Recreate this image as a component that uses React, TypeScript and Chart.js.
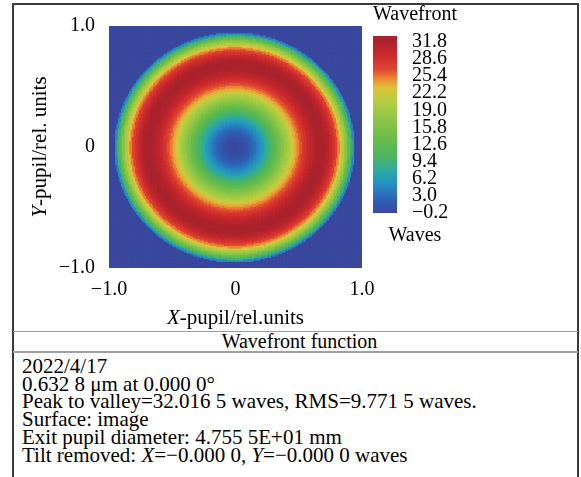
import React, { useEffect, useRef } from "react";
import { Chart, registerables } from "chart.js";

Chart.register(...registerables);

const FONT_FAMILY = '"Times New Roman", "Liberation Serif", Times, serif';

// pupil axes
const AXIS_TICKS = [-1, 0, 1];
const AXIS_TICK_LABELS = ["\u22121.0", "0", "1.0"];
const X_TITLE = ["X", "-pupil/rel.units"];
const Y_TITLE = ["Y", "-pupil/rel. units"];

// radial wavefront profile (radius in pupil axis units, value in waves)
const PROFILE_RADIUS = [
  0.0, 0.02, 0.04, 0.06, 0.08, 0.1, 0.12, 0.14, 0.16, 0.18, 0.2, 0.22, 0.24, 0.26, 0.28, 0.3, 0.32,
  0.34, 0.36, 0.38, 0.4, 0.42, 0.44, 0.46, 0.48, 0.5, 0.52, 0.54, 0.56, 0.58, 0.6, 0.62, 0.64, 0.66,
  0.68, 0.7, 0.72, 0.74, 0.76, 0.78, 0.8, 0.82, 0.84, 0.86, 0.88, 0.9, 0.92, 0.94, 0.96,
];
const PROFILE_WAVES = [
  -0.2, -0.1, 0.0, 0.3, 0.7, 1.2, 1.8, 2.5, 3.3, 4.1, 5.1, 6.2, 7.3, 8.5, 9.8, 11.1, 12.4, 13.8, 15.3,
  16.7, 18.2, 19.6, 21.0, 22.4, 23.8, 25.1, 26.3, 27.5, 28.5, 29.5, 30.3, 30.9, 31.4, 31.7, 31.8, 31.7,
  31.3, 30.7, 29.7, 28.5, 27.0, 25.1, 22.8, 20.1, 17.0, 13.4, 9.4, 4.9, -0.2,
];
const PUPIL_EDGE = 0.96;
const OUTSIDE_VALUE = -0.2;
const GRID_CELLS = 180;

// colour bar
const WAVE_MIN = -0.2;
const WAVE_MAX = 31.8;
const COLORBAR_TICKS = [31.8, 28.6, 25.4, 22.2, 19.0, 15.8, 12.6, 9.4, 6.2, 3.0, -0.2];
const COLORBAR_LABELS = ["31.8", "28.6", "25.4", "22.2", "19.0", "15.8", "12.6", "9.4", "6.2", "3.0", "\u22120.2"];
const COLORBAR_TITLE = "Wavefront";
const COLORBAR_UNIT = "Waves";

const TABLE_TITLE = "Wavefront function";
const INFO_LINES: { italic: boolean; text: string }[][] = [
  [{ italic: false, text: "2022/4/17" }],
  [{ italic: false, text: "0.632 8 \u03bcm at 0.000 0\u00b0" }],
  [{ italic: false, text: "Peak to valley=32.016 5 waves, RMS=9.771 5 waves." }],
  [{ italic: false, text: "Surface: image" }],
  [{ italic: false, text: "Exit pupil diameter: 4.755 5E+01 mm" }],
  [
    { italic: false, text: "Tilt removed: " },
    { italic: true, text: "X" },
    { italic: false, text: "=\u22120.000 0, " },
    { italic: true, text: "Y" },
    { italic: false, text: "=\u22120.000 0 waves" },
  ],
];

const COLOR_STOPS: [number, number[]][] = [
  [0.0, [58, 72, 158]],
  [0.08, [45, 98, 182]],
  [0.16, [38, 140, 196]],
  [0.24, [42, 170, 168]],
  [0.32, [72, 180, 100]],
  [0.42, [100, 187, 74]],
  [0.55, [142, 198, 70]],
  [0.66, [184, 205, 65]],
  [0.73, [222, 195, 60]],
  [0.78, [238, 140, 50]],
  [0.84, [222, 70, 50]],
  [0.92, [206, 42, 45]],
  [1.0, [170, 35, 45]],
];

function colorAtT(t: number): string {
  const tt = Math.min(1, Math.max(0, t));
  for (let k = 1; k < COLOR_STOPS.length; k++) {
    const [t1, c1] = COLOR_STOPS[k];
    const [t0, c0] = COLOR_STOPS[k - 1];
    if (tt <= t1) {
      const f = (tt - t0) / (t1 - t0);
      const c = c0.map((v, i) => Math.round(v + (c1[i] - v) * f));
      return `rgb(${c[0]},${c[1]},${c[2]})`;
    }
  }
  const c = COLOR_STOPS[COLOR_STOPS.length - 1][1];
  return `rgb(${c[0]},${c[1]},${c[2]})`;
}

function colorForWave(v: number): string {
  return colorAtT((v - WAVE_MIN) / (WAVE_MAX - WAVE_MIN));
}

function waveAtRadius(r: number): number {
  if (r > PUPIL_EDGE) return OUTSIDE_VALUE;
  let best = 0;
  for (let k = 1; k < PROFILE_RADIUS.length; k++) {
    if (Math.abs(PROFILE_RADIUS[k] - r) < Math.abs(PROFILE_RADIUS[best] - r)) best = k;
  }
  return PROFILE_WAVES[best];
}

function drawMixed(ctx: CanvasRenderingContext2D, parts: string[], cx: number, cy: number, size: number) {
  const italicFont = `italic ${size}px ${FONT_FAMILY}`;
  const normalFont = `${size}px ${FONT_FAMILY}`;
  ctx.font = italicFont;
  const w1 = ctx.measureText(parts[0]).width;
  ctx.font = normalFont;
  const w2 = ctx.measureText(parts[1]).width;
  const x0 = cx - (w1 + w2) / 2;
  ctx.textAlign = "left";
  ctx.textBaseline = "middle";
  ctx.fillStyle = "#000";
  ctx.font = italicFont;
  ctx.fillText(parts[0], x0, cy);
  ctx.font = normalFont;
  ctx.fillText(parts[1], x0 + w1, cy);
}

const axisTitlePlugin = {
  id: "axisTitles",
  afterDraw(chart: any) {
    const { ctx, chartArea } = chart;
    if (!chartArea) return;
    ctx.save();
    drawMixed(ctx, X_TITLE, (chartArea.left + chartArea.right) / 2, chartArea.bottom + 50, 21);
    ctx.translate(chartArea.left - 69, (chartArea.top + chartArea.bottom) / 2);
    ctx.rotate(-Math.PI / 2);
    drawMixed(ctx, Y_TITLE, 0, 0, 21);
    ctx.restore();
  },
};

export default function App() {
  const mapRef = useRef<HTMLCanvasElement | null>(null);
  const barRef = useRef<HTMLCanvasElement | null>(null);

  useEffect(() => {
    if (!mapRef.current || !barRef.current) return;

    const cells: { x: number; y: number }[] = [];
    const colors: string[] = [];
    for (let i = 0; i < GRID_CELLS; i++) {
      for (let j = 0; j < GRID_CELLS; j++) {
        const x = -1 + ((i + 0.5) * 2) / GRID_CELLS;
        const y = -1 + ((j + 0.5) * 2) / GRID_CELLS;
        cells.push({ x, y });
        colors.push(colorForWave(waveAtRadius(Math.hypot(x, y))));
      }
    }

    const tickFont = { family: FONT_FAMILY, size: 20 };
    const axisCommon = {
      type: "linear" as const,
      min: -1,
      max: 1,
      grid: { display: false, drawTicks: false },
      border: { display: false },
      afterBuildTicks: (s: any) => {
        s.ticks = AXIS_TICKS.map((v) => ({ value: v }));
      },
    };

    const mapChart = new Chart(mapRef.current, {
      type: "scatter",
      data: {
        datasets: [
          {
            data: cells,
            pointStyle: "rect",
            pointBackgroundColor: colors,
            pointBorderWidth: 0,
            pointRadius: (c: any) => {
              const a = c.chart.chartArea;
              const side = a ? ((a.right - a.left) / GRID_CELLS) * 2 : 3;
              return side / Math.SQRT2;
            },
            clip: 0,
          } as any,
        ],
      },
      options: {
        responsive: false,
        animation: false,
        events: [],
        layout: { padding: { left: 0, top: 15, right: 219, bottom: 0 } },
        plugins: { legend: { display: false }, tooltip: { enabled: false } },
        scales: {
          x: {
            ...axisCommon,
            ticks: {
              font: tickFont,
              color: "#000",
              padding: 10,
              maxRotation: 0,
              autoSkip: false,
              callback: (v: any) => AXIS_TICK_LABELS[AXIS_TICKS.indexOf(Number(v))],
            },
            afterFit: (s: any) => {
              s.height = 62;
            },
          },
          y: {
            ...axisCommon,
            ticks: {
              font: tickFont,
              color: "#000",
              padding: 14,
              autoSkip: false,
              callback: (v: any) => AXIS_TICK_LABELS[AXIS_TICKS.indexOf(Number(v))],
            },
            afterFit: (s: any) => {
              s.width = 109;
            },
          },
        },
      } as any,
      plugins: [axisTitlePlugin],
    });

    const barChart = new Chart(barRef.current, {
      type: "bar",
      data: {
        labels: [COLORBAR_TITLE],
        datasets: [
          {
            data: [[WAVE_MIN, 32.9]] as any,
            yAxisID: "y",
            borderWidth: 0,
            barPercentage: 1,
            categoryPercentage: 1,
            backgroundColor: (c: any) => {
              const chart = c.chart;
              const ys = chart.scales && chart.scales.y;
              if (!chart.chartArea || !ys) return colorAtT(0.5);
              const g = chart.ctx.createLinearGradient(
                0,
                ys.getPixelForValue(WAVE_MIN),
                0,
                ys.getPixelForValue(WAVE_MAX)
              );
              COLOR_STOPS.forEach(([t, col]) => g.addColorStop(t, `rgb(${col[0]},${col[1]},${col[2]})`));
              return g;
            },
          } as any,
        ],
      },
      options: {
        responsive: false,
        animation: false,
        events: [],
        layout: { padding: 0 },
        plugins: {
          legend: { display: false },
          tooltip: { enabled: false },
          title: {
            display: true,
            text: COLORBAR_TITLE,
            color: "#000",
            font: { family: FONT_FAMILY, size: 20, weight: "normal" },
            padding: { top: 3, bottom: 9 },
          },
          subtitle: {
            display: true,
            position: "bottom",
            text: COLORBAR_UNIT,
            color: "#000",
            font: { family: FONT_FAMILY, size: 20, weight: "normal" },
            padding: { top: 11, bottom: 4 },
          },
        },
        scales: {
          x: { display: false },
          yl: {
            type: "linear",
            position: "left",
            display: true,
            ticks: { display: false },
            grid: { display: false, drawTicks: false },
            border: { display: false },
            afterFit: (s: any) => {
              s.width = 38;
            },
          },
          y: {
            type: "linear",
            position: "right",
            min: WAVE_MIN,
            max: 32.9,
            grid: { display: false, drawTicks: false },
            border: { display: false },
            afterBuildTicks: (s: any) => {
              s.ticks = COLORBAR_TICKS.map((v) => ({ value: v }));
            },
            ticks: {
              autoSkip: false,
              padding: 15,
              color: "#000",
              font: { family: FONT_FAMILY, size: 20, lineHeight: 1 },
              callback: (v: any) => COLORBAR_LABELS[COLORBAR_TICKS.indexOf(Number(v))],
            },
            afterFit: (s: any) => {
              s.width = 98;
            },
          },
        },
      } as any,
    });

    return () => {
      mapChart.destroy();
      barChart.destroy();
    };
  }, []);

  const serif: React.CSSProperties = { fontFamily: FONT_FAMILY, color: "#000" };

  return (
    <div
      style={{
        position: "absolute",
        left: 0,
        top: 0,
        width: 581,
        height: 477,
        overflow: "hidden",
        background: "#fff",
      }}
    >
      <div
        style={{
          position: "absolute",
          left: 12,
          top: 3,
          width: 567,
          height: 500,
          boxSizing: "border-box",
          border: "2px solid #3a3a3a",
        }}
      />
      <canvas
        ref={mapRef}
        width={581}
        height={330}
        style={{ position: "absolute", left: 0, top: 0, width: 581, height: 330 }}
      />
      <canvas
        ref={barRef}
        width={160}
        height={252}
        style={{ position: "absolute", left: 335, top: 0, width: 160, height: 252 }}
      />
      <div
        style={{
          ...serif,
          position: "absolute",
          left: 13,
          top: 331,
          width: 565,
          height: 22,
          boxSizing: "border-box",
          borderTop: "1px solid #9a9a9a",
          borderBottom: "2px solid #a0a0a0",
          fontSize: 20,
          lineHeight: "19px",
          textAlign: "center",
          paddingLeft: 8,
        }}
      >
        {TABLE_TITLE}
      </div>
      <div
        style={{
          ...serif,
          position: "absolute",
          left: 22,
          top: 358,
          fontSize: 21,
          lineHeight: "17.7px",
          whiteSpace: "nowrap",
        }}
      >
        {INFO_LINES.map((line, li) => (
          <div key={li}>
            {line.map((p, pi) =>
              p.italic ? <i key={pi}>{p.text}</i> : <span key={pi}>{p.text}</span>
            )}
          </div>
        ))}
      </div>
    </div>
  );
}
